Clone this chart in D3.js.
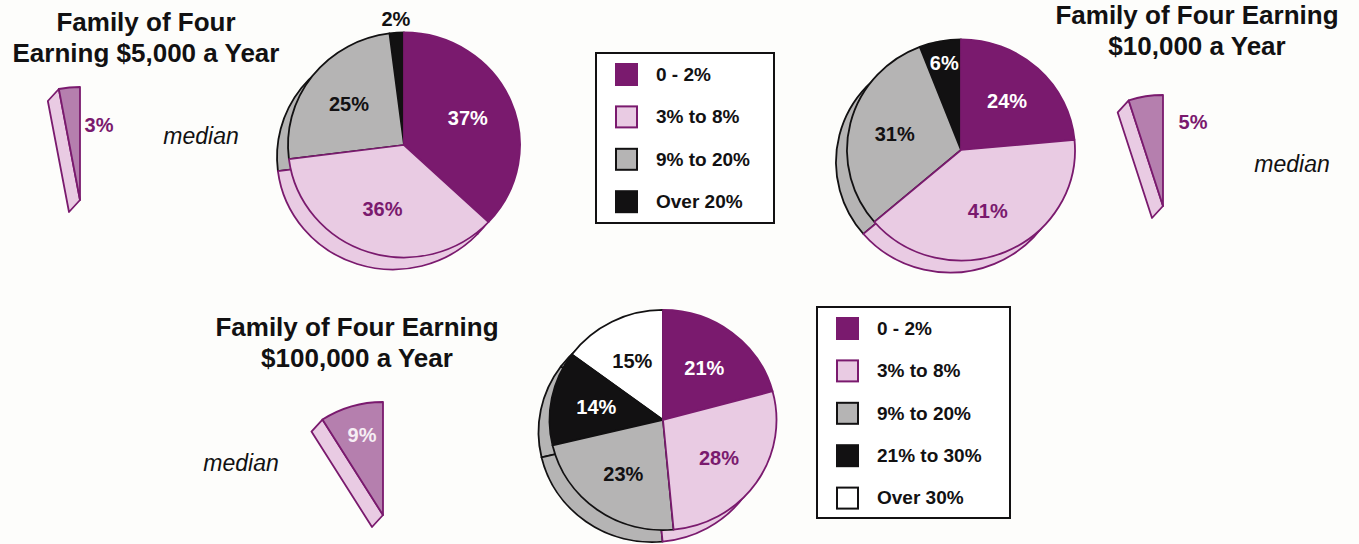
<!DOCTYPE html>
<html>
<head>
<meta charset="utf-8">
<script src="https://cdn.jsdelivr.net/npm/d3@7"></script>
<style>
  html, body { margin: 0; padding: 0; background: #fdfdfb; }
  svg { display: block; font-family: "Liberation Sans", Arial, Helvetica, sans-serif; }
</style>
</head>
<body>
<div id="chart"></div>
<script>
// categories and shares (percent of families) for each income
var categories4 = ["0 - 2%", "3% to 8%", "9% to 20%", "Over 20%"];
var categories5 = ["0 - 2%", "3% to 8%", "9% to 20%", "21% to 30%", "Over 30%"];
var values5k = [37, 36, 25, 2];
var values10k = [24, 41, 31, 6];
var values100k = [21, 28, 23, 14, 15];
var medianValues = [3, 5, 9];
var titles = [
  ["Family of Four", "Earning $5,000 a Year"],
  ["Family of Four Earning", "$10,000 a Year"],
  ["Family of Four Earning", "$100,000 a Year"]
];

var width = 1359, height = 544;
var purple = "#7a1a6e", pink = "#e9cbe3", grey = "#b5b4b4", black = "#121112";
var wedgeTop = "#b57fae";

var fill = d3.scaleOrdinal()
  .domain(["0 - 2%", "3% to 8%", "9% to 20%", "Over 20%", "21% to 30%", "Over 30%"])
  .range([purple, pink, grey, black, black, "#ffffff"]);
var sideFill = d3.scaleOrdinal()
  .domain(fill.domain())
  .range([purple, pink, grey, grey, grey, grey]);
var stroke = d3.scaleOrdinal()
  .domain(fill.domain())
  .range([purple, purple, black, black, black, black]);
var labelColor = d3.scaleOrdinal()
  .domain(fill.domain())
  .range(["#ffffff", purple, black, "#ffffff", "#ffffff", black]);

var svg = d3.select("#chart").append("svg")
  .attr("width", width)
  .attr("height", height);

var pie = d3.pie().sort(null).value(function (d) { return d.value; });
var squash = 0.97;
var shadow = [-11, 12];

function drawPie(cats, values, cx, cy, r) {
  var data = pie(cats.map(function (c, i) { return { cat: c, value: values[i] }; }));
  var total = d3.sum(values);
  var arc = d3.arc().innerRadius(0).outerRadius(r);
  // purple-edged slices go last so their outline sits on top
  var order = data.slice().sort(function (a, b) { return stroke(a.data.cat) === purple ? 1 : -1; });

  var g = svg.append("g");

  // side wall, drawn as the same pie pushed down-left
  var back = g.append("g")
    .attr("transform", "translate(" + (cx + shadow[0]) + "," + (cy + shadow[1]) + ") scale(1," + squash + ")");
  back.selectAll("path")
    .data(order)
    .enter().append("path")
    .attr("d", arc)
    .attr("fill", function (d) { return sideFill(d.data.cat); })
    .attr("stroke", function (d) { return stroke(d.data.cat); })
    .attr("stroke-width", 1.8)
    .attr("stroke-linejoin", "round");

  var front = g.append("g")
    .attr("transform", "translate(" + cx + "," + cy + ") scale(1," + squash + ")");
  front.selectAll("path")
    .data(order)
    .enter().append("path")
    .attr("d", arc)
    .attr("fill", function (d) { return fill(d.data.cat); })
    .attr("stroke", function (d) { return stroke(d.data.cat); })
    .attr("stroke-width", 1.8)
    .attr("stroke-linejoin", "round");

  g.selectAll("text")
    .data(data)
    .enter().append("text")
    .attr("transform", function (d) {
      var share = d.value / total;
      var k = share < 0.03 ? 1.12 : (share < 0.1 ? 0.8 : 0.6);
      var p = d3.pointRadial((d.startAngle + d.endAngle) / 2, r * k);
      return "translate(" + (cx + p[0]) + "," + (cy + p[1] * squash) + ")";
    })
    .attr("text-anchor", "middle")
    .attr("dy", "0.36em")
    .attr("font-size", 20)
    .attr("font-weight", "bold")
    .attr("fill", function (d) {
      return d.value / total < 0.03 ? black : labelColor(d.data.cat);
    })
    .text(function (d) { return d.value + "%"; });
}

function drawWedge(value, ax, ay, R, lx, ly, textFill) {
  var a = -2 * Math.PI * value / 100;
  var corner = d3.pointRadial(a, R);
  var g = svg.append("g").attr("transform", "translate(" + ax + "," + ay + ")");

  var side = [[0, 0], corner, [corner[0] + shadow[0], corner[1] + shadow[1]], [shadow[0], shadow[1]]];
  g.append("path")
    .attr("d", d3.line()(side) + "Z")
    .attr("fill", pink)
    .attr("stroke", purple)
    .attr("stroke-width", 1.8)
    .attr("stroke-linejoin", "round");

  g.append("path")
    .attr("d", d3.arc().innerRadius(0).outerRadius(R)({ startAngle: a, endAngle: 0 }))
    .attr("fill", wedgeTop)
    .attr("stroke", purple)
    .attr("stroke-width", 1.8)
    .attr("stroke-linejoin", "round");

  svg.append("text")
    .attr("x", lx).attr("y", ly)
    .attr("text-anchor", "middle")
    .attr("dy", "0.36em")
    .attr("font-size", 20)
    .attr("font-weight", "bold")
    .attr("fill", textFill)
    .text(value + "%");
}

function drawTitle(lines, x, y) {
  svg.append("g").selectAll("text")
    .data(lines)
    .enter().append("text")
    .attr("x", x)
    .attr("y", function (d, i) { return y + i * 31; })
    .attr("text-anchor", "middle")
    .attr("font-size", 26)
    .attr("font-weight", "bold")
    .attr("fill", black)
    .text(function (d) { return d; });
}

function drawMedian(x, y) {
  svg.append("text")
    .attr("x", x).attr("y", y)
    .attr("text-anchor", "middle")
    .attr("font-size", 23)
    .attr("font-style", "italic")
    .attr("fill", black)
    .text("median");
}

function drawLegend(cats, x, y, w, h) {
  var g = svg.append("g").attr("transform", "translate(" + x + "," + y + ")");
  g.append("rect")
    .attr("width", w).attr("height", h)
    .attr("fill", "#ffffff")
    .attr("stroke", black)
    .attr("stroke-width", 2);

  var rowY = d3.scalePoint().domain(cats).range([21, 21 + 42.4 * (cats.length - 1)]);
  var row = g.selectAll(".row")
    .data(cats)
    .enter().append("g")
    .attr("class", "row")
    .attr("transform", function (d) { return "translate(0," + rowY(d) + ")"; });

  row.append("rect")
    .attr("x", 20).attr("y", -10)
    .attr("width", 21).attr("height", 21)
    .attr("fill", function (d) { return fill(d); })
    .attr("stroke", function (d) { return stroke(d); })
    .attr("stroke-width", 2);

  row.append("text")
    .attr("x", 60)
    .attr("dy", "0.36em")
    .attr("font-size", 19)
    .attr("font-weight", "bold")
    .attr("fill", black)
    .text(function (d) { return d; });
}

drawTitle(titles[0], 146, 31);
drawTitle(titles[1], 1197, 24);
drawTitle(titles[2], 357, 336);

drawWedge(medianValues[0], 80, 200, 113, 99, 125, purple);
drawWedge(medianValues[1], 1163, 206, 111, 1193, 122, purple);
drawWedge(medianValues[2], 383, 515, 113, 362, 435, "#f6eef4");

drawMedian(201, 144);
drawMedian(1292, 172);
drawMedian(241, 471);

drawPie(categories4, values5k, 404, 145, 116);
drawPie(categories4, values10k, 961, 150, 114);
drawPie(categories5, values100k, 663, 420, 113.5);

drawLegend(categories4, 596, 53, 178, 170);
drawLegend(categories5, 817, 307, 193, 211);
</script>
</body>
</html>
